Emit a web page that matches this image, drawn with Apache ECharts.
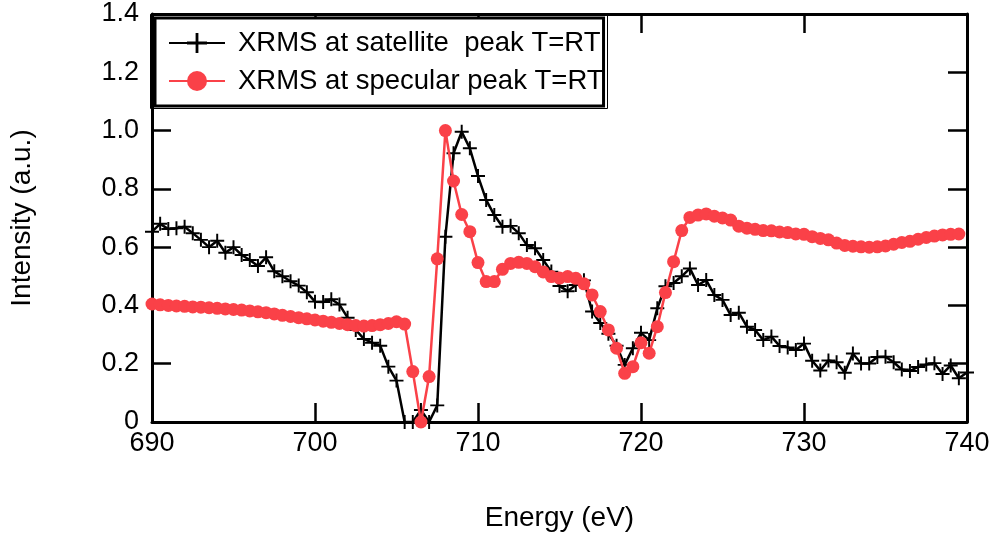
<!DOCTYPE html>
<html><head><meta charset="utf-8">
<script src="https://cdn.jsdelivr.net/npm/echarts@6/dist/echarts.min.js"></script>
<style>html,body{margin:0;padding:0;background:#fff}#c{width:998px;height:538px}</style>
</head><body><div id="c"></div>
<script>
const energy = [690,690.5,691,691.5,692,692.5,693,693.5,694,694.5,695,695.5,696,696.5,697,697.5,698,698.5,699,699.5,
700,700.5,701,701.5,702,702.5,703,703.5,704,704.5,705,705.5,706,706.5,707,707.5,708,708.5,709,709.5,
710,710.5,711,711.5,712,712.5,713,713.5,714,714.5,715,715.5,716,716.5,717,717.5,718,718.5,719,719.5,
720,720.5,721,721.5,722,722.5,723,723.5,724,724.5,725,725.5,726,726.5,727,727.5,728,728.5,729,729.5,
730,730.5,731,731.5,732,732.5,733,733.5,734,734.5,735,735.5,736,736.5,737,737.5,738,738.5,739,739.5,740];

const satellite = [0.653,0.680,0.662,0.665,0.670,0.648,0.625,0.600,0.622,0.581,0.600,0.573,0.556,0.535,0.565,0.517,0.500,0.483,0.468,0.445,
0.413,0.412,0.421,0.403,0.358,0.316,0.285,0.272,0.262,0.190,0.142,0.000,0.000,0.041,0.000,0.057,0.636,0.922,0.996,0.939,
0.844,0.762,0.710,0.670,0.673,0.648,0.607,0.596,0.556,0.516,0.467,0.449,0.470,0.486,0.379,0.340,0.303,0.262,0.196,0.253,
0.306,0.281,0.390,0.466,0.477,0.500,0.527,0.470,0.487,0.436,0.419,0.367,0.375,0.327,0.316,0.281,0.293,0.261,0.256,0.247,
0.269,0.210,0.177,0.211,0.205,0.169,0.235,0.201,0.201,0.223,0.224,0.205,0.180,0.175,0.189,0.197,0.202,0.165,0.194,0.150,0.170];

const specular = [0.405,0.402,0.400,0.398,0.397,0.395,0.394,0.392,0.390,0.388,0.386,0.384,0.381,0.378,0.375,0.371,0.366,0.362,0.358,0.354,
0.350,0.346,0.342,0.338,0.334,0.331,0.329,0.331,0.334,0.338,0.344,0.336,0.173,0.000,0.156,0.560,1.000,0.827,0.712,0.653,
0.547,0.482,0.482,0.524,0.544,0.548,0.544,0.533,0.515,0.499,0.494,0.499,0.493,0.474,0.436,0.379,0.316,0.253,0.167,0.190,
0.272,0.236,0.327,0.444,0.550,0.657,0.702,0.710,0.714,0.706,0.700,0.693,0.672,0.665,0.661,0.657,0.656,0.652,0.650,0.645,
0.644,0.636,0.630,0.625,0.614,0.606,0.603,0.601,0.600,0.601,0.604,0.610,0.616,0.620,0.627,0.633,0.638,0.642,0.644,0.645];

const seriesNames = ['XRMS at satellite  peak T=RT', 'XRMS at specular peak T=RT'];
const xRange = [690, 740];
const yRange = [0, 1.4];
const xLabel = 'Energy (eV)';
const yLabel = 'Intensity (a.u.)';

const FONT = 'Liberation Sans';
const FS_TICK = 27;
const FS = 28;
const FS_LEG = 27.5;
const RED = '#fa4148';
const plus = 'path://M-1.4,-10H1.4V10H-1.4Z M-10,-1.4H10V1.4H-10Z';

const chart = echarts.init(document.getElementById('c'), null, {renderer: 'canvas'});

function axisCommon(show) {
  return {
    axisLine: {show: true, onZero: false, lineStyle: {color: '#000', width: 3}},
    axisTick: {show: true, inside: true, length: 19, lineStyle: {color: '#000', width: 2.5}},
    splitLine: {show: false},
    axisLabel: {show: show}
  };
}

const option = {
  animation: false,
  backgroundColor: '#fff',
  grid: {left: 151, right: 31, top: 14, bottom: 116},
  xAxis: [
    Object.assign({
      type: 'value', min: xRange[0], max: xRange[1], interval: 10, position: 'bottom',
      name: xLabel, nameLocation: 'middle', nameGap: 82,
      nameTextStyle: {fontFamily: FONT, fontSize: FS, color: '#000'}
    }, axisCommon(true), {
      axisLabel: {show: true, fontFamily: FONT, fontSize: FS_TICK, color: '#000', margin: 8}
    }),
    Object.assign({
      type: 'value', min: xRange[0], max: xRange[1], interval: 10, position: 'top'
    }, axisCommon(false))
  ],
  yAxis: [
    Object.assign({
      type: 'value', min: yRange[0], max: yRange[1], interval: 0.2, position: 'left',
      name: yLabel, nameLocation: 'middle', nameGap: 116, nameRotate: 90,
      nameTextStyle: {fontFamily: FONT, fontSize: FS, color: '#000'}
    }, axisCommon(true), {
      axisLabel: {show: true, fontFamily: FONT, fontSize: FS_TICK, color: '#000', margin: 13,
        formatter: v => v === 0 ? '0' : v.toFixed(1)}
    }),
    Object.assign({
      type: 'value', min: yRange[0], max: yRange[1], interval: 0.2, position: 'right'
    }, axisCommon(false))
  ],
  legend: {
    show: true,
    left: 155, top: 18,
    orient: 'vertical',
    backgroundColor: '#fff',
    borderColor: '#000', borderWidth: 3,
    padding: [11, 0, 11, 13],
    itemWidth: 56, itemHeight: 25, itemGap: 10,
    textStyle: {fontFamily: FONT, fontSize: FS_LEG, color: '#000', padding: [0, 0, 0, 8]},
    data: seriesNames,
    z: 10
  },
  graphic: [{
    type: 'rect', z: 100,
    shape: {x: 150.5, y: 14.5, width: 457, height: 94},
    style: {fill: null, stroke: '#000', lineWidth: 1}
  }],
  series: [
    {
      name: seriesNames[0], type: 'line',
      data: energy.map((e, i) => [e, satellite[i]]),
      symbol: plus, symbolSize: 14,
      itemStyle: {color: '#000'},
      lineStyle: {color: '#000', width: 2.5},
      clip: false, z: 2
    },
    {
      name: seriesNames[1], type: 'line',
      data: specular.map((v, i) => [energy[i], v]),
      symbol: 'circle', symbolSize: 13,
      itemStyle: {color: RED},
      lineStyle: {color: RED, width: 2.5},
      clip: false, z: 3
    }
  ]
};
chart.setOption(option);
</script>
</body></html>
